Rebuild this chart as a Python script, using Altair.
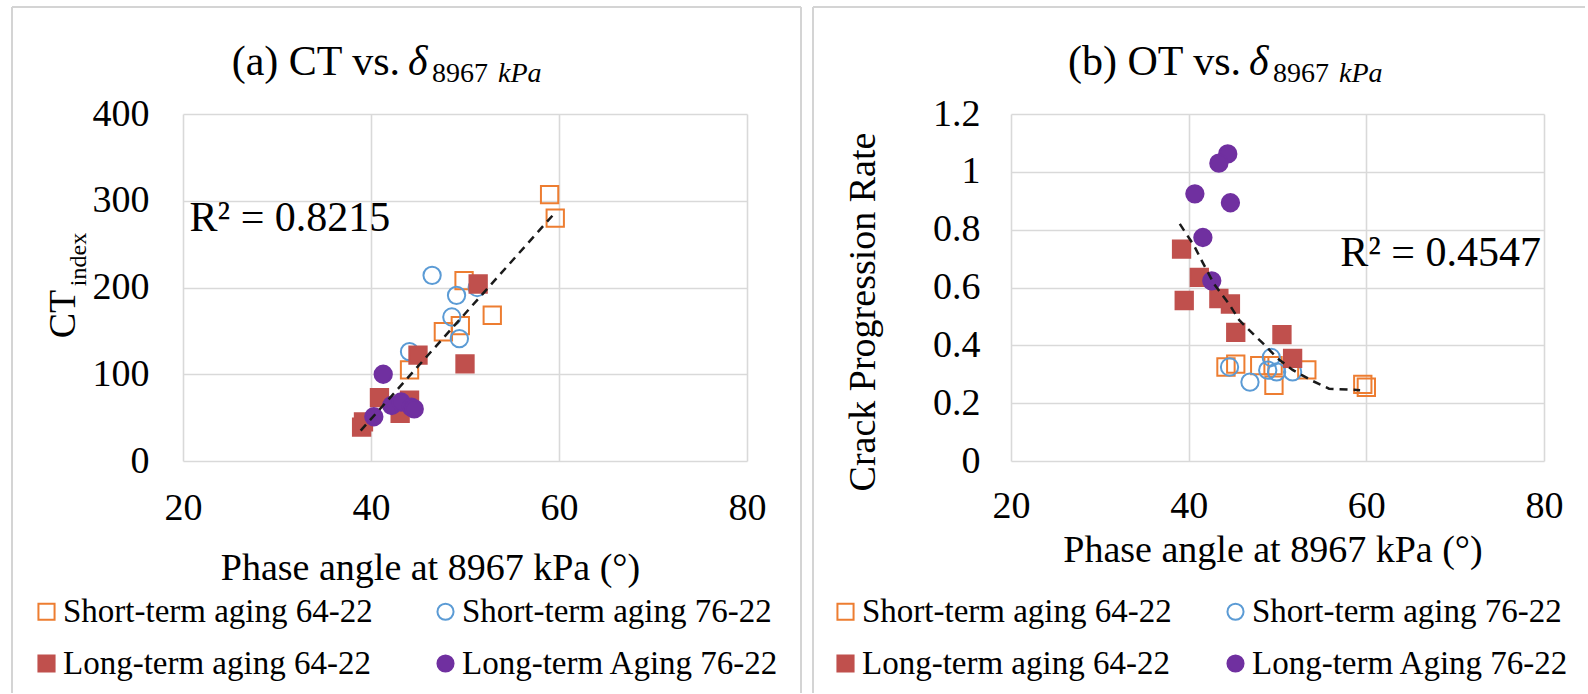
import altair as alt
import pandas as pd

FONT = "Liberation Serif"
SERIES = ["Short-term aging 64-22", "Short-term aging 76-22",
          "Long-term aging 64-22", "Long-term Aging 76-22"]
COLORS = ["#ED7D31", "#5B9BD5", "#C0504D", "#7030A0"]
FILLS = ["transparent", "transparent", "#C0504D", "#7030A0"]
SHAPES = ["square", "circle", "square", "circle"]

# ---- (a) CT index vs. phase angle ----
a_st64_x = [59.0, 59.6, 49.9, 52.9, 49.5, 47.7, 44.1]
a_st64_y = [307, 280, 208, 168, 156, 149, 105]
a_st76_x = [46.5, 49.1, 48.6, 49.4, 44.1, 51.3]
a_st76_y = [214, 191, 166, 141, 126, 200]
a_lt64_x = [51.4, 45.0, 50.0, 40.9, 44.1, 43.1, 39.0, 39.2]
a_lt64_y = [204, 122, 112, 73, 70, 55, 39, 45]
a_lt76_x = [41.3, 40.3, 42.2, 43.2, 44.3, 44.6]
a_lt76_y = [100, 51, 64, 68, 62, 60]
a_trend_x = [38.9, 59.4]
a_trend_y = [35, 284]

# ---- (b) crack progression rate vs. phase angle ----
b_st64_x = [44.2, 45.3, 48.0, 49.5, 49.6, 53.3, 59.6, 60.0]
b_st64_y = [0.325, 0.335, 0.33, 0.33, 0.262, 0.315, 0.265, 0.255]
b_st76_x = [44.6, 46.9, 49.3, 48.9, 49.9, 51.7]
b_st76_y = [0.325, 0.273, 0.358, 0.314, 0.308, 0.308]
b_lt64_x = [39.2, 41.2, 39.5, 43.4, 44.7, 45.3, 50.5, 51.7]
b_lt64_y = [0.733, 0.635, 0.555, 0.562, 0.543, 0.445, 0.437, 0.355]
b_lt76_x = [44.4, 43.4, 40.7, 44.7, 41.6, 42.6]
b_lt76_y = [1.062, 1.03, 0.924, 0.893, 0.773, 0.623]
b_trend_x = [39.0, 40.6, 41.6, 42.9, 44.5, 45.7, 47.4, 48.4, 50.0, 51.7, 53.8, 55.8, 59.3]
b_trend_y = [0.82, 0.745, 0.685, 0.61, 0.545, 0.487, 0.435, 0.406, 0.355, 0.315, 0.279, 0.25, 0.245]

X_TICKS = [20, 40, 60, 80]


def points_frame(xs_list, ys_list):
    rows = []
    for name, xs, ys in zip(SERIES, xs_list, ys_list):
        rows += [{"series": name, "x": x, "y": y} for x, y in zip(xs, ys)]
    return pd.DataFrame(rows)


def text_at(text, x, y, size, align="left", angle=0, style="normal"):
    return alt.Chart(alt.Data(values=[{"t": text}])).mark_text(
        font=FONT, fontSize=size, align=align, baseline="alphabetic",
        angle=angle, fontStyle=style, color="#000000"
    ).encode(x=alt.value(x), y=alt.value(y), text="t:N")


def rule_at(x, x2, y, y2):
    return alt.Chart(alt.Data(values=[{}])).mark_rule(
        color="#d4d4d4", strokeWidth=2
    ).encode(x=alt.value(x), x2=alt.value(x2), y=alt.value(y), y2=alt.value(y2))


def panel(pts, trend, y_dom, y_ticks, width, y_pad, x_pad, r2, legend_x, col_pad,
          title_parts, y_titles, x_title, frame):
    xs = alt.Scale(domain=[20, 80], nice=False, zero=False)
    ys = alt.Scale(domain=y_dom, nice=False, zero=False)
    grid = dict(grid=True, gridColor="#d9d9d9", gridWidth=1.6, domain=False,
                ticks=False, tickSize=0, labelFont=FONT, labelFontSize=38,
                labelColor="#000000", labelFlush=False, labelOverlap=False,
                format=".2~f", title=None)
    x_axis = alt.Axis(values=X_TICKS, labelPadding=x_pad, **grid)
    y_axis = alt.Axis(values=y_ticks, labelPadding=y_pad, **grid)
    legend = alt.Legend(
        title=None, orient="none", legendX=legend_x, legendY=481, columns=2,
        direction="horizontal", columnPadding=col_pad, rowPadding=18, padding=0,
        labelFont=FONT, labelFontSize=33, labelColor="#000000", labelLimit=500,
        labelOffset=0, symbolSize=260, symbolStrokeWidth=2, symbolOpacity=1,
    )
    points = alt.Chart(pts).mark_point(size=300, strokeWidth=2, opacity=1).encode(
        x=alt.X("x:Q", scale=xs, axis=x_axis),
        y=alt.Y("y:Q", scale=ys, axis=y_axis),
        color=alt.Color("series:N", scale=alt.Scale(domain=SERIES, range=COLORS), legend=legend),
        fill=alt.Fill("series:N", scale=alt.Scale(domain=SERIES, range=FILLS), legend=legend),
        shape=alt.Shape("series:N", scale=alt.Scale(domain=SERIES, range=SHAPES), legend=legend),
    )
    line = alt.Chart(trend).mark_line(color="#1a1a1a", strokeWidth=2.5, strokeDash=[8, 6]).encode(
        x=alt.X("x:Q", scale=xs, axis=x_axis), y=alt.Y("y:Q", scale=ys, axis=y_axis)
    )
    r2_df = pd.DataFrame([{"x": r2[0], "y": r2[1], "t": r2[2]}])
    r2_text = alt.Chart(r2_df).mark_text(
        font=FONT, fontSize=42, align=r2[3], baseline="alphabetic", color="#000000"
    ).encode(x=alt.X("x:Q", scale=xs, axis=x_axis), y=alt.Y("y:Q", scale=ys, axis=y_axis),
             text="t:N")

    layers = [points, line, r2_text]
    layers += [rule_at(*f) for f in frame]
    layers += [text_at(*p) for p in title_parts]
    layers += [text_at(*p) for p in y_titles]
    layers += [text_at(*x_title)]
    return alt.layer(*layers).properties(width=width, height=347)


pts_a = points_frame([a_st64_x, a_st76_x, a_lt64_x, a_lt76_x],
                     [a_st64_y, a_st76_y, a_lt64_y, a_lt76_y])
pts_b = points_frame([b_st64_x, b_st76_x, b_lt64_x, b_lt76_x],
                     [b_st64_y, b_st76_y, b_lt64_y, b_lt76_y])
trend_a = pd.DataFrame({"x": a_trend_x, "y": a_trend_y})
trend_b = pd.DataFrame({"x": b_trend_x, "y": b_trend_y})

chart_a = panel(
    pts_a, trend_a, [0, 400], [0, 100, 200, 300, 400], 564, 34, 28,
    (20.7, 265, "R² = 0.8215", "left"), -153, 56,
    [("(a) CT vs.", 48.7, -39, 42), ("δ", 225, -39, 42, "left", 0, "italic"),
     ("8967", 249, -32, 28), ("kPa", 315, -32, 28, "left", 0, "italic")],
    [("CT", -108, 200, 38, "center", 270), ("index", -97, 145.5, 24, "center", 270)],
    ("Phase angle at 8967 kPa (°)", 247.5, 466, 38, "center"),
    [(-171, 618, -107, -107), (-171, -171, -107, 579), (618, 618, -107, 579)],
)

chart_b = panel(
    pts_b, trend_b, [0, 1.2], [0, 0.2, 0.4, 0.6, 0.8, 1.0, 1.2], 533, 31, 26,
    (79.66, 0.674, "R² = 0.4547", "right"), -182, 47,
    [("(b) OT vs.", 57, -39, 42), ("δ", 238, -39, 42, "left", 0, "italic"),
     ("8967", 262, -32, 28), ("kPa", 328, -32, 28, "left", 0, "italic")],
    [("Crack Progression Rate", -136, 198, 38, "center", 270)],
    ("Phase angle at 8967 kPa (°)", 262, 448, 38, "center"),
    [(-198, 574, -107, -107), (-198, -198, -107, 579)],
)

chart = alt.hconcat(chart_a, chart_b, spacing=264, bounds="flush").resolve_scale(
    x="independent", y="independent", color="independent",
    fill="independent", shape="independent"
).resolve_legend(
    color="independent", fill="independent", shape="independent"
).properties(
    padding={"left": 11, "top": 6, "right": 0, "bottom": 0},
    background="#ffffff",
).configure_view(stroke=None)

chart.save("out.html", embed_options={"renderer": "svg", "actions": False})
